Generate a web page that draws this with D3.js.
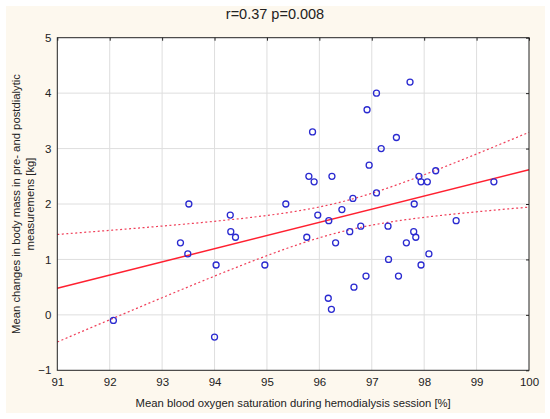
<!DOCTYPE html>
<html>
<head>
<meta charset="utf-8">
<script src="https://cdn.jsdelivr.net/npm/d3@7"></script>
<style>
  body { margin: 0; background: #fff; }
  text { font-family: "Liberation Sans", Arial, sans-serif; fill: #222; }
</style>
</head>
<body>
<div id="chart"></div>
<script>
// Mean blood oxygen saturation [%]
const saturation = [
  92.07, 94.00, 93.35, 93.49, 94.03, 94.30, 94.31, 94.40, 94.96, 93.51,
  95.97, 96.18, 95.76, 96.43, 96.58, 96.79, 96.31, 97.31, 97.80, 97.84,
  97.66, 98.09, 98.61, 97.32, 97.94, 96.89, 97.51, 96.66, 96.17, 96.23,
  97.73, 97.09, 96.91, 95.87, 97.47, 97.18, 96.95, 95.80, 95.90, 96.24,
  97.90, 97.94, 98.06, 98.22, 99.33, 97.09, 96.64, 95.36, 97.81
];
// Mean change in body mass [kg]
const massChange = [
  -0.1, -0.4, 1.3, 1.1, 0.9, 1.8, 1.5, 1.4, 0.9, 2.0,
  1.8, 1.7, 1.4, 1.9, 1.5, 1.6, 1.3, 1.6, 1.5, 1.4,
  1.3, 1.1, 1.7, 1.0, 0.9, 0.7, 0.7, 0.5, 0.3, 0.1,
  4.2, 4.0, 3.7, 3.3, 3.2, 3.0, 2.7, 2.5, 2.4, 2.5,
  2.5, 2.4, 2.4, 2.6, 2.4, 2.2, 2.1, 2.0, 2.0
];
const xTicks = [91, 92, 93, 94, 95, 96, 97, 98, 99, 100];
const yTicks = [-1, 0, 1, 2, 3, 4, 5];

const width = 550, height = 419;
const margin = { left: 57.3, right: 21, top: 37.7, bottom: 48.7 };

const svg = d3.select("#chart").append("svg")
  .attr("width", width)
  .attr("height", height);

// cream background panel
svg.append("rect")
  .attr("x", 6).attr("y", 6)
  .attr("width", 539).attr("height", 407)
  .attr("fill", "#fdf8ee");

const x = d3.scaleLinear().domain([91, 100]).range([margin.left, width - margin.right]);
const y = d3.scaleLinear().domain([-1, 5]).range([height - margin.bottom, margin.top]);

// plot area
svg.append("rect")
  .attr("x", x(91)).attr("y", y(5))
  .attr("width", x(100) - x(91)).attr("height", y(-1) - y(5))
  .attr("fill", "#fff");

// grid
svg.append("g").selectAll("line")
  .data(xTicks.slice(1, -1))
  .join("line")
  .attr("x1", d => x(d)).attr("x2", d => x(d))
  .attr("y1", y(5)).attr("y2", y(-1))
  .attr("stroke", "#dedede");
svg.append("g").selectAll("line")
  .data(yTicks.slice(1, -1))
  .join("line")
  .attr("x1", x(91)).attr("x2", x(100))
  .attr("y1", d => y(d)).attr("y2", d => y(d))
  .attr("stroke", "#dedede");

// regression line with 95% confidence band
const n = saturation.length;
const mx = d3.mean(saturation), my = d3.mean(massChange);
const sxx = d3.sum(saturation, v => (v - mx) ** 2);
const sxy = d3.sum(saturation, (v, i) => (v - mx) * (massChange[i] - my));
const slope = sxy / sxx;
const icept = my - slope * mx;
const sse = d3.sum(saturation, (v, i) => (massChange[i] - icept - slope * v) ** 2);
const se = Math.sqrt(sse / (n - 2));
const tCrit = 2.012;
const xs = d3.range(91, 100.001, 0.05);
const fit = v => icept + slope * v;
const band = (v, s) => fit(v) + s * tCrit * se * Math.sqrt(1 / n + (v - mx) ** 2 / sxx);

const line = d3.line().x(d => x(d[0])).y(d => y(d[1]));

[1, -1].forEach(s => {
  svg.append("path")
    .datum(xs.map(v => [v, band(v, s)]))
    .attr("d", line).attr("fill", "none")
    .attr("stroke", "#f0405a").attr("stroke-width", 1.2)
    .attr("stroke-dasharray", "2,2.5");
});
svg.append("path")
  .datum([[91, fit(91)], [100, fit(100)]])
  .attr("d", line).attr("fill", "none")
  .attr("stroke", "#ff2030").attr("stroke-width", 1.5);

// points
svg.append("g").selectAll("circle")
  .data(saturation.map((v, i) => [v, massChange[i]]))
  .join("circle")
  .attr("cx", d => x(d[0])).attr("cy", d => y(d[1]))
  .attr("r", 3)
  .attr("fill", "none")
  .attr("stroke", "#2a2ad0")
  .attr("stroke-width", 1.3);

// frame
svg.append("rect")
  .attr("x", x(91)).attr("y", y(5))
  .attr("width", x(100) - x(91)).attr("height", y(-1) - y(5))
  .attr("fill", "none").attr("stroke", "#222");

// axes, with small inward ticks on top and right
svg.append("g")
  .attr("transform", `translate(0,${y(-1)})`)
  .call(d3.axisBottom(x).tickValues(xTicks).tickSize(0).tickPadding(8).tickFormat(d3.format("d")));
svg.append("g")
  .attr("transform", `translate(${x(91)},0)`)
  .call(d3.axisLeft(y).tickValues(yTicks).tickSize(0).tickPadding(6).tickFormat(d3.format("d")));
svg.append("g")
  .attr("transform", `translate(0,${y(5)})`)
  .call(d3.axisBottom(x).tickValues(xTicks).tickSize(3).tickFormat(""));
svg.append("g")
  .attr("transform", `translate(${x(100)},0)`)
  .call(d3.axisLeft(y).tickValues(yTicks).tickSize(3).tickFormat(""));
svg.selectAll(".domain").remove();
svg.selectAll(".tick line").attr("stroke", "#222");
svg.selectAll(".tick text")
  .style("font-family", '"Liberation Sans", Arial, sans-serif')
  .style("font-size", "11.5px")
  .attr("fill", "#222");

// title
svg.append("text")
  .attr("x", 275).attr("y", 19)
  .attr("text-anchor", "middle")
  .style("font-size", "14.5px")
  .text("r=0.37 p=0.008");

// axis titles
const plotMidX = (x(91) + x(100)) / 2;
const plotMidY = (y(5) + y(-1)) / 2;
svg.append("text")
  .attr("x", plotMidX).attr("y", 407)
  .attr("text-anchor", "middle")
  .style("font-size", "11.3px")
  .text("Mean blood oxygen saturation during hemodialysis session [%]");
const yTitle = svg.append("text")
  .attr("transform", `translate(20,${plotMidY}) rotate(-90)`)
  .attr("text-anchor", "middle")
  .style("font-size", "11.3px");
yTitle.append("tspan").attr("x", 0).attr("dy", 0)
  .text("Mean changes in body mass in pre- and postdialytic");
yTitle.append("tspan").attr("x", 0).attr("dy", 13.5)
  .text("measuremens [kg]");
</script>
</body>
</html>
